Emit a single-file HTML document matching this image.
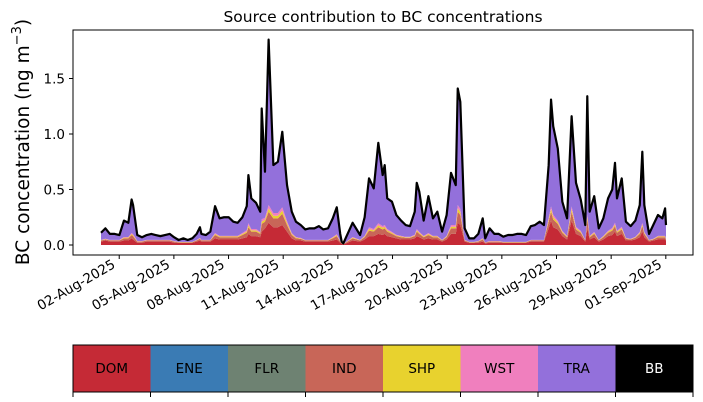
<!DOCTYPE html>
<html><head><meta charset="utf-8"><style>
body{margin:0;background:#fff;}
svg{display:block;font-family:"DejaVu Sans","Liberation Sans",sans-serif;}
</style></head><body>
<svg id="chart" width="703" height="402" viewBox="0 0 703 402">
<text x="383" y="22" font-size="15.5" text-anchor="middle">Source contribution to BC concentrations</text>
<text transform="translate(29,142) rotate(-90)" font-size="18.5" text-anchor="middle">BC concentration (ng m<tspan dy="-8" font-size="13">−3</tspan><tspan dy="8">)</tspan></text>
<g id="plot"></g>
<g id="xticks"></g>
<g id="yticks"></g>
<rect x="73" y="30" width="620" height="225" fill="none" stroke="#000" stroke-width="1"/>
<g id="cbar"></g>
</svg>
<script>
const days=[0.00,0.24,0.49,0.75,1.01,1.26,1.50,1.68,1.76,1.99,2.25,2.51,2.76,3.00,3.26,3.51,3.77,4.01,4.26,4.52,4.76,5.01,5.25,5.43,5.51,5.76,6.00,6.26,6.51,6.75,7.01,7.26,7.50,7.76,8.00,8.09,8.25,8.51,8.74,8.82,9.00,9.20,9.46,9.71,9.95,10.21,10.47,10.70,10.96,11.21,11.45,11.71,11.96,12.20,12.46,12.72,12.94,13.13,13.21,13.30,13.81,14.22,14.47,14.71,14.97,15.22,15.46,15.57,15.71,15.97,16.21,16.47,16.72,16.96,17.22,17.33,17.47,17.71,17.97,18.22,18.46,18.72,18.97,19.21,19.47,19.58,19.72,19.96,20.21,20.47,20.71,20.95,21.09,21.33,21.59,21.83,22.08,22.34,22.57,22.83,23.09,23.33,23.59,23.82,24.08,24.31,24.57,24.70,24.82,25.07,25.32,25.58,25.83,26.07,26.33,26.58,26.69,26.82,27.07,27.32,27.57,27.83,28.06,28.21,28.32,28.58,28.81,29.07,29.33,29.57,29.71,29.82,30.08,30.31,30.57,30.81,30.96,31.01];
const total=[0.11,0.15,0.10,0.10,0.09,0.22,0.20,0.41,0.36,0.09,0.07,0.09,0.10,0.09,0.08,0.09,0.10,0.07,0.045,0.06,0.045,0.06,0.10,0.16,0.10,0.09,0.12,0.35,0.24,0.25,0.25,0.21,0.20,0.25,0.35,0.63,0.42,0.38,0.30,1.23,0.66,1.85,0.72,0.75,1.02,0.54,0.30,0.21,0.18,0.14,0.15,0.15,0.17,0.14,0.15,0.24,0.34,0.10,0.03,0.015,0.20,0.09,0.25,0.60,0.51,0.92,0.63,0.72,0.42,0.39,0.27,0.22,0.18,0.17,0.30,0.56,0.48,0.22,0.44,0.24,0.30,0.12,0.27,0.65,0.54,1.41,1.29,0.15,0.06,0.06,0.10,0.24,0.06,0.15,0.10,0.10,0.075,0.09,0.09,0.10,0.10,0.09,0.17,0.18,0.21,0.18,0.72,1.31,1.07,0.87,0.39,0.24,1.16,0.56,0.41,0.18,1.34,0.30,0.44,0.15,0.24,0.42,0.50,0.74,0.42,0.60,0.21,0.17,0.22,0.36,0.84,0.36,0.10,0.18,0.27,0.24,0.33,0.18];
const dom=[0.03,0.04,0.03,0.03,0.03,0.04,0.04,0.06,0.05,0.02,0.02,0.03,0.03,0.03,0.03,0.03,0.03,0.02,0.02,0.02,0.02,0.02,0.03,0.04,0.03,0.03,0.03,0.06,0.05,0.05,0.05,0.05,0.05,0.06,0.07,0.10,0.08,0.08,0.07,0.12,0.15,0.20,0.16,0.16,0.18,0.12,0.06,0.04,0.04,0.03,0.03,0.03,0.03,0.03,0.03,0.04,0.05,0.02,0.01,0.005,0.04,0.03,0.05,0.08,0.08,0.10,0.09,0.10,0.08,0.07,0.06,0.05,0.05,0.05,0.06,0.08,0.07,0.05,0.06,0.05,0.05,0.03,0.05,0.10,0.10,0.20,0.18,0.03,0.02,0.02,0.02,0.03,0.015,0.02,0.02,0.02,0.02,0.02,0.02,0.02,0.02,0.02,0.03,0.03,0.03,0.03,0.15,0.22,0.16,0.14,0.08,0.05,0.22,0.10,0.08,0.03,0.15,0.05,0.07,0.03,0.05,0.08,0.09,0.12,0.08,0.10,0.04,0.04,0.05,0.07,0.12,0.07,0.03,0.04,0.05,0.05,0.05,0.04];
const ind=[0.01,0.01,0.01,0.01,0.01,0.02,0.02,0.03,0.03,0.01,0.01,0.01,0.01,0.01,0.01,0.01,0.01,0.01,0.005,0.005,0.005,0.005,0.01,0.015,0.01,0.01,0.01,0.03,0.02,0.02,0.02,0.02,0.02,0.03,0.04,0.06,0.04,0.04,0.03,0.07,0.06,0.10,0.08,0.08,0.10,0.06,0.03,0.02,0.015,0.01,0.01,0.01,0.01,0.01,0.01,0.02,0.03,0.01,0.005,0.002,0.02,0.01,0.02,0.05,0.04,0.06,0.05,0.05,0.04,0.03,0.02,0.02,0.015,0.015,0.02,0.04,0.03,0.02,0.03,0.02,0.02,0.01,0.02,0.05,0.05,0.10,0.09,0.01,0.005,0.005,0.01,0.02,0.005,0.01,0.01,0.01,0.005,0.005,0.005,0.005,0.005,0.005,0.01,0.01,0.01,0.01,0.06,0.08,0.07,0.05,0.03,0.02,0.08,0.04,0.03,0.01,0.08,0.02,0.03,0.01,0.02,0.03,0.04,0.05,0.03,0.04,0.015,0.01,0.015,0.03,0.05,0.03,0.01,0.01,0.02,0.02,0.02,0.01];
const xTickDays=[1,4,7,10,13,16,19,22,25,28,31];
const xTickLabels=["02-Aug-2025","05-Aug-2025","08-Aug-2025","11-Aug-2025","14-Aug-2025","17-Aug-2025","20-Aug-2025","23-Aug-2025","26-Aug-2025","29-Aug-2025","01-Sep-2025"];
const yTicks=[0,0.5,1.0,1.5];
const yTickLabels=["0.0","0.5","1.0","1.5"];
const sources=["DOM","ENE","FLR","IND","SHP","WST","TRA","BB"];
const sourceColors=["#c52a36","#3a7bb4","#6e8272","#c86658","#e8d22e","#f07fbe","#9370db","#000000"];

const NS="http://www.w3.org/2000/svg";
const xs=d=>101+d*18.22;
const ys=v=>245-v*111;
function mk(tag,attrs,parent){const e=document.createElementNS(NS,tag);for(const k in attrs)e.setAttribute(k,attrs[k]);parent.appendChild(e);return e;}
const plot=document.getElementById('plot');
function area(lower,upper,color,name){
  let d="M"+days.map((t,i)=>xs(t).toFixed(2)+","+ys(upper[i]).toFixed(2)).join("L");
  for(let i=days.length-1;i>=0;i--)d+="L"+xs(days[i]).toFixed(2)+","+ys(lower[i]).toFixed(2);
  const p=mk('path',{d:d+"Z",fill:color},plot);
  
  
}
const zero=days.map(()=>0);
const c1=dom.slice();
const c2=dom.map((v,i)=>v+ind[i]);
const c3=c2.map((v,i)=>Math.min(total[i],v+ind[i]*0.3));
const c4=c3.map((v,i)=>Math.min(total[i],v+ind[i]*0.3));
area(zero,c1,sourceColors[0],'area-dom');
area(c1,c2,sourceColors[3],'area-ind');
area(c2,c3,sourceColors[4],'area-shp');
area(c3,c4,sourceColors[5],'area-wst');
area(c4,total,sourceColors[6],'area-tra');
const line=mk('path',{d:"M"+days.map((t,i)=>xs(t).toFixed(2)+","+ys(total[i]).toFixed(2)).join("L"),fill:"none",stroke:"#000","stroke-width":2.2,"stroke-linejoin":"round"},plot);



const xg=document.getElementById('xticks');
xTickDays.forEach((d,i)=>{
  const x=xs(d);
  const t=mk('line',{x1:x,x2:x,y1:255,y2:259,stroke:"#000"},xg);
  
  
  const l=mk('text',{x:0,y:0,"font-size":13.5,"text-anchor":"end",transform:`translate(${x-3},${267}) rotate(-30)`},xg);
  l.textContent=xTickLabels[i];
  
  
});
const yg=document.getElementById('yticks');
yTicks.forEach((v,i)=>{
  const y=ys(v);
  const t=mk('line',{x1:69,x2:73,y1:y,y2:y,stroke:"#000"},yg);
  
  
  const l=mk('text',{x:65,y:y+5,"font-size":13.5,"text-anchor":"end"},yg);
  l.textContent=yTickLabels[i];
  
  
});
const cb=document.getElementById('cbar');
const w=620/sources.length;
sources.forEach((s,i)=>{
  const r=mk('rect',{x:73+i*w,y:345,width:w+0.5,height:47,fill:sourceColors[i]},cb);
  
  
  const l=mk('text',{x:73+i*w+w/2,y:373,"font-size":13.5,"text-anchor":"middle",fill:s==="BB"?"#fff":"#000"},cb);
  l.textContent=s;
  
  
});
for(let i=0;i<=sources.length;i++){
  const t=mk('line',{x1:73+i*w,x2:73+i*w,y1:392,y2:397,stroke:"#000"},cb);
  
  
}
const fr=mk('rect',{x:73,y:345,width:620,height:47,fill:"none",stroke:"#000"},cb);


</script>
</body></html>
